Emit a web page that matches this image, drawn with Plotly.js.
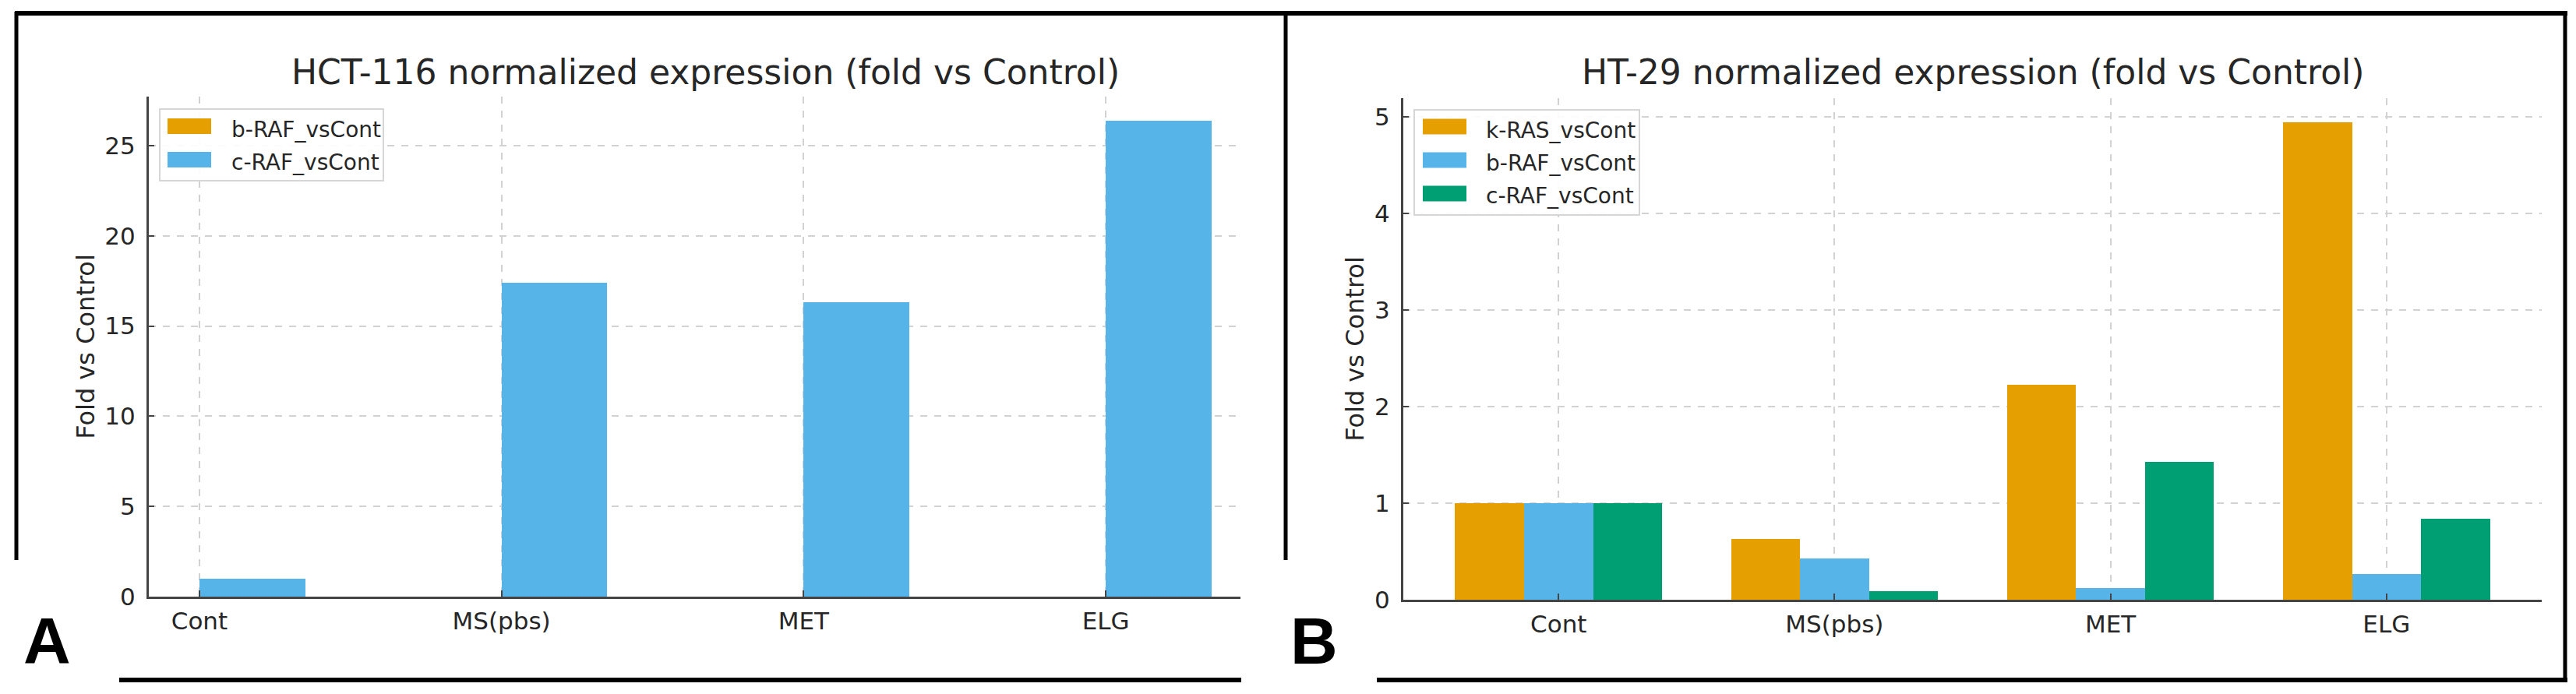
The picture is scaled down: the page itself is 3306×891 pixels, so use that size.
<!DOCTYPE html>
<html>
<head>
<meta charset="utf-8">
<script src="https://cdn.plot.ly/plotly-3.0.1.min.js"></script>
<style>html,body{margin:0;padding:0;background:#fff;}#chart{width:3306px;height:891px;}</style>
</head>
<body>
<div id="chart"></div>
<script>
// ---- data ----
const categories = ['Cont', 'MS(pbs)', 'MET', 'ELG'];
const hctBRAF = [null, null, null, null];
const hctCRAF = [1.0, 17.4, 16.3, 26.4];
const htKRAS = [1.0, 0.63, 2.23, 4.95];
const htBRAF = [1.0, 0.43, 0.12, 0.27];
const htCRAF = [1.0, 0.09, 1.43, 0.84];
const hctSeriesNames = ['b-RAF_vsCont', 'c-RAF_vsCont'];
const htSeriesNames = ['k-RAS_vsCont', 'b-RAF_vsCont', 'c-RAF_vsCont'];
const titleA = 'HCT-116 normalized expression (fold vs Control)';
const titleB = 'HT-29 normalized expression (fold vs Control)';
const yLabel = 'Fold vs Control';
const panelLabels = ['A', 'B'];
const yTicksA = [0, 5, 10, 15, 20, 25];
const yTicksB = [0, 1, 2, 3, 4, 5];

// ---- styling ----
const W = 3306, H = 891;
const px = v => v / W;
const py = v => 1 - v / H;
const ORANGE = '#E69F00', SKY = '#56B4E9', GREEN = '#009E73';
const hctColors = [ORANGE, SKY];
const htColors = [ORANGE, SKY, GREEN];
const FONT = 'DejaVu Sans';
const TXT = '#262626';
const GRID = '#d2d2d2';
const SPINE = '#444444';

function bar(x, y, name, color, offset, width, legend, group) {
  return {
    type: 'bar', x: x, y: y, name: name, offset: offset, width: width,
    marker: {color: color, line: {width: 0}},
    xaxis: legend === 'legend' ? 'x' : 'x2',
    yaxis: legend === 'legend' ? 'y' : 'y2',
    legend: legend, legendgroup: group, hoverinfo: 'x+y+name'
  };
}

const traces = [
  bar(categories, hctBRAF, hctSeriesNames[0], hctColors[0], -0.35, 0.35, 'legend', 'a1'),
  bar(categories, hctCRAF, hctSeriesNames[1], hctColors[1], 0, 0.35, 'legend', 'a2'),
  bar(categories, htKRAS, htSeriesNames[0], htColors[0], -0.375, 0.25, 'legend2', 'b1'),
  bar(categories, htBRAF, htSeriesNames[1], htColors[1], -0.125, 0.25, 'legend2', 'b2'),
  bar(categories, htCRAF, htSeriesNames[2], htColors[2], 0.125, 0.25, 'legend2', 'b3')
];

function xAxis(domain, range) {
  return {
    domain: domain, range: range, type: 'category', autorange: false,
    categoryorder: 'array', categoryarray: categories,
    showline: true, linecolor: SPINE, linewidth: 3,
    ticks: 'inside', ticklen: 8, tickwidth: 2, tickcolor: SPINE,
    showgrid: true, gridcolor: GRID, gridwidth: 2, griddash: 'dash',
    zeroline: false, ticklabelstandoff: 2,
    tickfont: {family: FONT, size: 31, color: TXT}
  };
}
function yAxis(domain, range, tickvals, anchor) {
  return {
    domain: domain, range: range, autorange: false, anchor: anchor,
    tickmode: 'array', tickvals: tickvals,
    showline: true, linecolor: SPINE, linewidth: 3,
    ticks: 'inside', ticklen: 7, tickwidth: 2, tickcolor: SPINE,
    showgrid: true, gridcolor: GRID, gridwidth: 2, griddash: 'dash',
    zeroline: false, ticklabelstandoff: 8,
    tickfont: {family: FONT, size: 31, color: TXT},
    title: {text: yLabel, font: {family: FONT, size: 32, color: TXT}, standoff: 4}
  };
}

function hline(x0, x1, y) {
  return {type: 'line', xref: 'paper', yref: 'paper', x0: px(x0), x1: px(x1), y0: py(y), y1: py(y),
    line: {color: '#000', width: 6}, layer: 'above'};
}
function vline(x, y0, y1) {
  return {type: 'line', xref: 'paper', yref: 'paper', x0: px(x), x1: px(x), y0: py(y0), y1: py(y1),
    line: {color: '#000', width: 5}, layer: 'above'};
}
// legend frame and wide swatches (decoration behind the transparent native legend)
function legendBox(x0, x1, y0, y1) {
  return {type: 'rect', xref: 'paper', yref: 'paper', x0: px(x0), x1: px(x1), y0: py(y1), y1: py(y0),
    fillcolor: 'rgba(255,255,255,0.9)', line: {color: '#d6d6d6', width: 2}, layer: 'above'};
}
function swatch(x0, yc, color) {
  return {type: 'rect', xref: 'paper', yref: 'paper', x0: px(x0), x1: px(x0 + 56), y0: py(yc + 10), y1: py(yc - 10),
    fillcolor: color, line: {width: 0}, layer: 'above'};
}

const legendCommon = {
  xanchor: 'left', yanchor: 'top', bgcolor: 'rgba(0,0,0,0)',
  borderwidth: 0,
  font: {family: FONT, size: 28, color: TXT},
  traceorder: 'grouped', tracegroupgap: 3, itemwidth: 82
};

const shapes = [
  hline(19, 3295, 17),
  vline(21, 15, 719),
  vline(1650, 15, 719),
  vline(3292, 15, 876),
  hline(153, 1593, 873),
  hline(1767, 3295, 873),
  legendBox(205, 492, 140, 232),
  legendBox(1815, 2104, 141, 276)
];
hctColors.forEach((c, i) => shapes.push(swatch(215, 162 + 43 * i, c)));
htColors.forEach((c, i) => shapes.push(swatch(1826, 162.5 + 43 * i, c)));

const layout = {
  width: W, height: H,
  margin: {l: 0, r: 0, t: 0, b: 0, pad: 0},
  paper_bgcolor: '#fff', plot_bgcolor: '#fff',
  barmode: 'overlay', bargap: 0,
  font: {family: FONT, color: TXT},
  xaxis: xAxis([px(191), px(1592)], [-0.1675, 3.446]),
  yaxis: yAxis([1 - 766 / H, 1 - 124 / H], [0, 27.72], yTicksA, 'x'),
  xaxis2: Object.assign(xAxis([px(1801), px(3262)], [-0.5625, 3.5625]), {anchor: 'y2'}),
  yaxis2: yAxis([1 - 770 / H, 1 - 126 / H], [0, 5.1975], yTicksB, 'x2'),
  legend: Object.assign({x: px(205), y: py(140)}, legendCommon),
  legend2: Object.assign({x: px(1815), y: py(141)}, legendCommon),
  showlegend: true,
  annotations: [
    {text: titleA, xref: 'paper', yref: 'paper', x: px(905), y: py(93), xanchor: 'center', yanchor: 'middle',
     showarrow: false, font: {family: FONT, size: 44, color: TXT}},
    {text: titleB, xref: 'paper', yref: 'paper', x: px(2532), y: py(93), xanchor: 'center', yanchor: 'middle',
     showarrow: false, font: {family: FONT, size: 44, color: TXT}},
    {text: '<b>' + panelLabels[0] + '</b>', xref: 'paper', yref: 'paper', x: px(28), y: py(823), xanchor: 'left', yanchor: 'middle',
     showarrow: false, font: {family: 'Liberation Sans', size: 84, color: '#000'}},
    {text: '<b>' + panelLabels[1] + '</b>', xref: 'paper', yref: 'paper', x: px(1654), y: py(823), xanchor: 'left', yanchor: 'middle',
     showarrow: false, font: {family: 'Liberation Sans', size: 84, color: '#000'}}
  ],
  shapes: shapes
};

Plotly.newPlot('chart', traces, layout, {displayModeBar: false, staticPlot: true});
</script>
</body>
</html>
